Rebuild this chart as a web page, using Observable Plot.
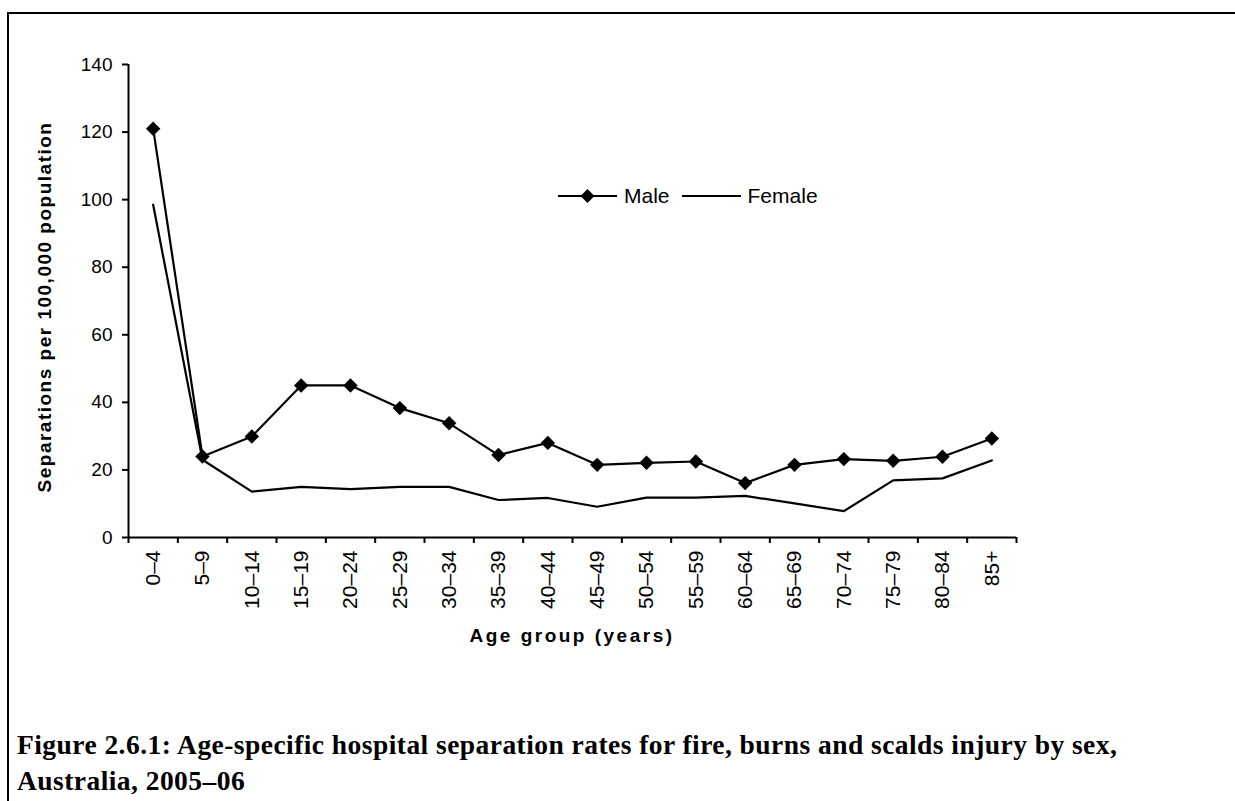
<!DOCTYPE html>
<html>
<head>
<meta charset="utf-8">
<script src="https://cdn.jsdelivr.net/npm/d3@7"></script>
<script src="https://cdn.jsdelivr.net/npm/@observablehq/plot@0.6"></script>
<style>
  html, body { margin: 0; padding: 0; background: #fff; overflow: hidden; width: 1235px; height: 801px; }
  #frame { position: absolute; left: 7px; top: 12px; width: 1300px; height: 900px; border-top: 2px solid #000; border-left: 2px solid #000; }
  #chart { position: absolute; left: 0; top: 0; }
  .ytitle { position: absolute; left: 45px; top: 307px; transform: translate(-50%, -50%) rotate(-90deg); font: bold 19px Arial, "Liberation Sans", sans-serif; letter-spacing: 1.5px; white-space: nowrap; color: #000; }
  .xtitle { position: absolute; left: 572px; top: 636px; transform: translate(-50%, -50%); font: bold 19px Arial, "Liberation Sans", sans-serif; letter-spacing: 2.5px; white-space: nowrap; color: #000; }
  #legend { position: absolute; left: 558px; top: 183px; height: 26px; display: flex; align-items: center; font: 21px Arial, "Liberation Sans", sans-serif; color: #000; }
  #legend span { line-height: 26px; }
  .caption { position: absolute; left: 17px; top: 727px; font: bold 27.5px "Liberation Serif", "Times New Roman", serif; letter-spacing: 0.45px; line-height: 36px; white-space: nowrap; color: #000; }
</style>
</head>
<body>
<div id="frame"></div>
<div id="chart"></div>
<div class="ytitle">Separations per 100,000 population</div>
<div class="xtitle">Age group (years)</div>
<div id="legend"></div>
<div class="caption">Figure 2.6.1: Age-specific hospital separation rates for fire, burns and scalds injury by sex,<br>Australia, 2005–06</div>
<script>
const categories = ["0–4","5–9","10–14","15–19","20–24","25–29","30–34","35–39","40–44","45–49","50–54","55–59","60–64","65–69","70–74","75–79","80–84","85+"];
const male = [121.0, 24.0, 29.9, 45.0, 45.0, 38.3, 33.8, 24.4, 28.0, 21.5, 22.1, 22.5, 16.1, 21.5, 23.2, 22.7, 23.9, 29.3];
const female = [98.5, 23.0, 13.6, 15.0, 14.3, 15.0, 15.0, 11.1, 11.7, 9.1, 11.8, 11.8, 12.3, 10.1, 7.8, 16.9, 17.5, 22.8];
const yTicks = [0, 20, 40, 60, 80, 100, 120, 140];
const seriesNames = ["Male", "Female"];

const n = categories.length;
const rows = categories.map((c, i) => ({i, cat: c, male: male[i], female: female[i]}));
const xDomain = [-0.5, n - 0.5];
const boundaries = d3.range(n + 1).map(k => k - 0.5);

const chart = Plot.plot({
  width: 1235,
  height: 660,
  marginLeft: 128,
  marginRight: 219,
  marginTop: 64,
  marginBottom: 123,
  x: {type: "linear", domain: xDomain, label: null},
  y: {domain: [yTicks[0], yTicks[yTicks.length - 1]], label: null},
  style: {fontFamily: "Arial, 'Liberation Sans', sans-serif", color: "#000", background: "transparent"},
  marks: [
    Plot.axisY(yTicks, {tickSize: 6, tickPadding: 10, fontSize: 19, strokeWidth: 2, label: null}),
    Plot.axisX(boundaries, {tickSize: 6, tickFormat: () => "", strokeWidth: 2, label: null}),
    Plot.axisX(d3.range(n), {tickSize: 0, tickPadding: 13, tickRotate: -90, tickFormat: i => categories[i], fontSize: 21, label: null}),
    Plot.ruleY([yTicks[0]], {strokeWidth: 2}),
    Plot.ruleX([xDomain[0]], {strokeWidth: 2}),
    Plot.line(rows, {x: "i", y: "female", stroke: "#000", strokeWidth: 2.2}),
    Plot.line(rows, {x: "i", y: "male", stroke: "#000", strokeWidth: 2.2}),
    Plot.dot(rows, {x: "i", y: "male", symbol: "diamond2", r: 6.5, fill: "#000", stroke: "none"})
  ]
});
document.getElementById("chart").appendChild(chart);

// Legend
const legend = d3.select("#legend");
seriesNames.forEach((name, k) => {
  const sw = legend.append("svg").attr("width", 59).attr("height", 26)
    .style("margin-left", k === 0 ? "0px" : "12px");
  sw.append("line").attr("x1", 0).attr("x2", 59).attr("y1", 13).attr("y2", 13)
    .attr("stroke", "#000").attr("stroke-width", 2.2);
  if (k === 0) {
    sw.append("path").attr("d", "M29.5,6L36.5,13L29.5,20L22.5,13Z").attr("fill", "#000");
  }
  legend.append("span").style("margin-left", "7px").text(name);
});
</script>
</body>
</html>
